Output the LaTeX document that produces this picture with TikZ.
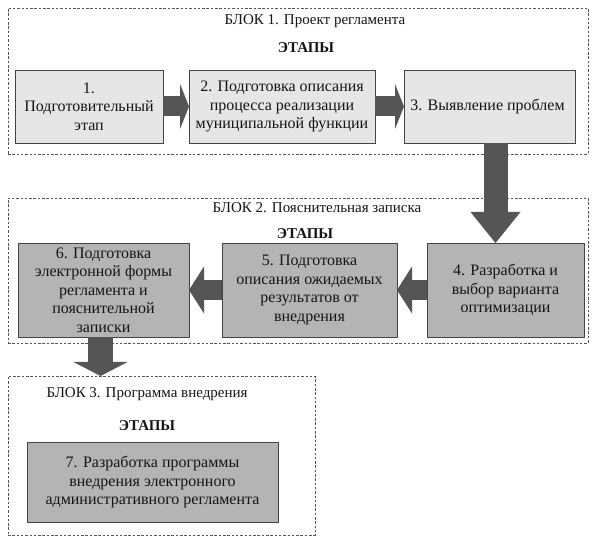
\documentclass[tikz,border=0pt]{standalone}
\usepackage{fontspec}
\setmainfont{Liberation Serif}
\usetikzlibrary{positioning, arrows.meta}

\definecolor{frameline}{HTML}{555555}
\definecolor{boxline}{HTML}{444444}
\definecolor{stagelight}{HTML}{E6E6E6}
\definecolor{stagedark}{HTML}{B4B4B4}
\definecolor{arrowgray}{HTML}{555555}
\definecolor{textdark}{HTML}{151515}

\begin{document}
\begin{tikzpicture}[
    x=1pt, y=-1pt,
    blockframe/.style={
        rectangle,
        draw=frameline,
        dash pattern=on 2.5pt off 1.8pt,
        line width=0.8pt,
        anchor=north west,
        inner sep=0pt,
        outer sep=0pt
    },
    stage/.style={
        rectangle,
        draw=boxline,
        line width=0.9pt,
        fill=stagelight,
        text=textdark,
        align=center,
        anchor=north west,
        inner sep=2pt,
        outer sep=0pt,
        font=\rmfamily\fontsize{16}{18.4}\selectfont
    },
    stagedark/.style={
        stage,
        fill=stagedark
    },
    caption/.style={
        text=textdark,
        font=\rmfamily\fontsize{15}{18}\selectfont
    },
    heading/.style={
        text=textdark,
        font=\rmfamily\fontsize{15}{18}\selectfont\bfseries
    },
    flatarrow/.style={
        draw=arrowgray,
        line width=20pt,
        -{Triangle[length=9pt, width=45pt, line width=0pt]}
    },
    backarrow/.style={
        draw=arrowgray,
        line width=20pt,
        -{Triangle[length=15pt, width=47pt, line width=0pt]}
    },
    downarrow/.style={
        draw=arrowgray,
        line width=24pt,
        -{Triangle[length=31pt, width=50pt, line width=0pt]}
    }
]
\useasboundingbox (0,0) rectangle (595,540);

% Block 1: Proekt reglamenta
\node[blockframe, minimum width=580pt, minimum height=146pt] (blk1) at (8,8) {};
\node[caption] (title1) at (315,21) {БЛОК 1. Проект регламента};
\node[heading] (stages1) at (306,48) {ЭТАПЫ};

\node[stage, minimum width=148pt, minimum height=73pt] (box1) at (15,70) {
    1.\\Подготовительный\\этап
};
\node[stage, minimum width=186pt, minimum height=73pt, right=26pt of box1.north east, anchor=north west] (box2) {
    2. Подготовка описания\\процесса реализации\\муниципальной функции
};
\node[stage, minimum width=171pt, minimum height=73pt, right=29pt of box2.north east, anchor=north west] (box3) {
    3. Выявление проблем
};

% Block 2: Poyasnitelnaya zapiska
\node[blockframe, minimum width=580pt, minimum height=145pt] (blk2) at (8,198) {};
\node[caption] (title2) at (317,208) {БЛОК 2. Пояснительная записка};
\node[heading] (stages2) at (305,234) {ЭТАПЫ};

\node[stagedark, minimum width=157pt, minimum height=94pt] (box4) at (427,243) {
    4. Разработка и\\выбор варианта\\оптимизации
};
\node[stagedark, minimum width=175pt, minimum height=94pt, left=30pt of box4.north west, anchor=north east] (box5) {
    5. Подготовка\\описания ожидаемых\\результатов от\\внедрения
};
\node[stagedark, minimum width=171pt, minimum height=94pt, left=33pt of box5.north west, anchor=north east] (box6) {
    6. Подготовка\\электронной формы\\регламента и\\пояснительной\\записки
};

% Block 3: Programma vnedreniya
\node[blockframe, minimum width=307pt, minimum height=159pt] (blk3) at (8,376) {};
\node[caption] (title3) at (147,394) {БЛОК 3. Программа внедрения};
\node[heading] (stages3) at (147,426) {ЭТАПЫ};

\node[stagedark, minimum width=251pt, minimum height=80pt] (box7) at (27,442) {
    7. Разработка программы\\внедрения электронного\\административного регламента
};

% Arrows
\draw[flatarrow] (box1) -- (box2);
\draw[flatarrow] (box2) -- (box3);
\draw[downarrow] ([xshift=6pt]box3.south) -- ([xshift=6pt]box3.south |- box4.north);
\draw[backarrow] (box4) -- (box5);
\draw[backarrow] (box5) -- (box6);
\draw[downarrow, -{Triangle[length=14pt, width=54pt, line width=0pt]}, line width=25pt] ([xshift=-3pt]box6.south) -- ([xshift=-3pt]box6.south |- blk3.north);

\end{tikzpicture}
\end{document}
